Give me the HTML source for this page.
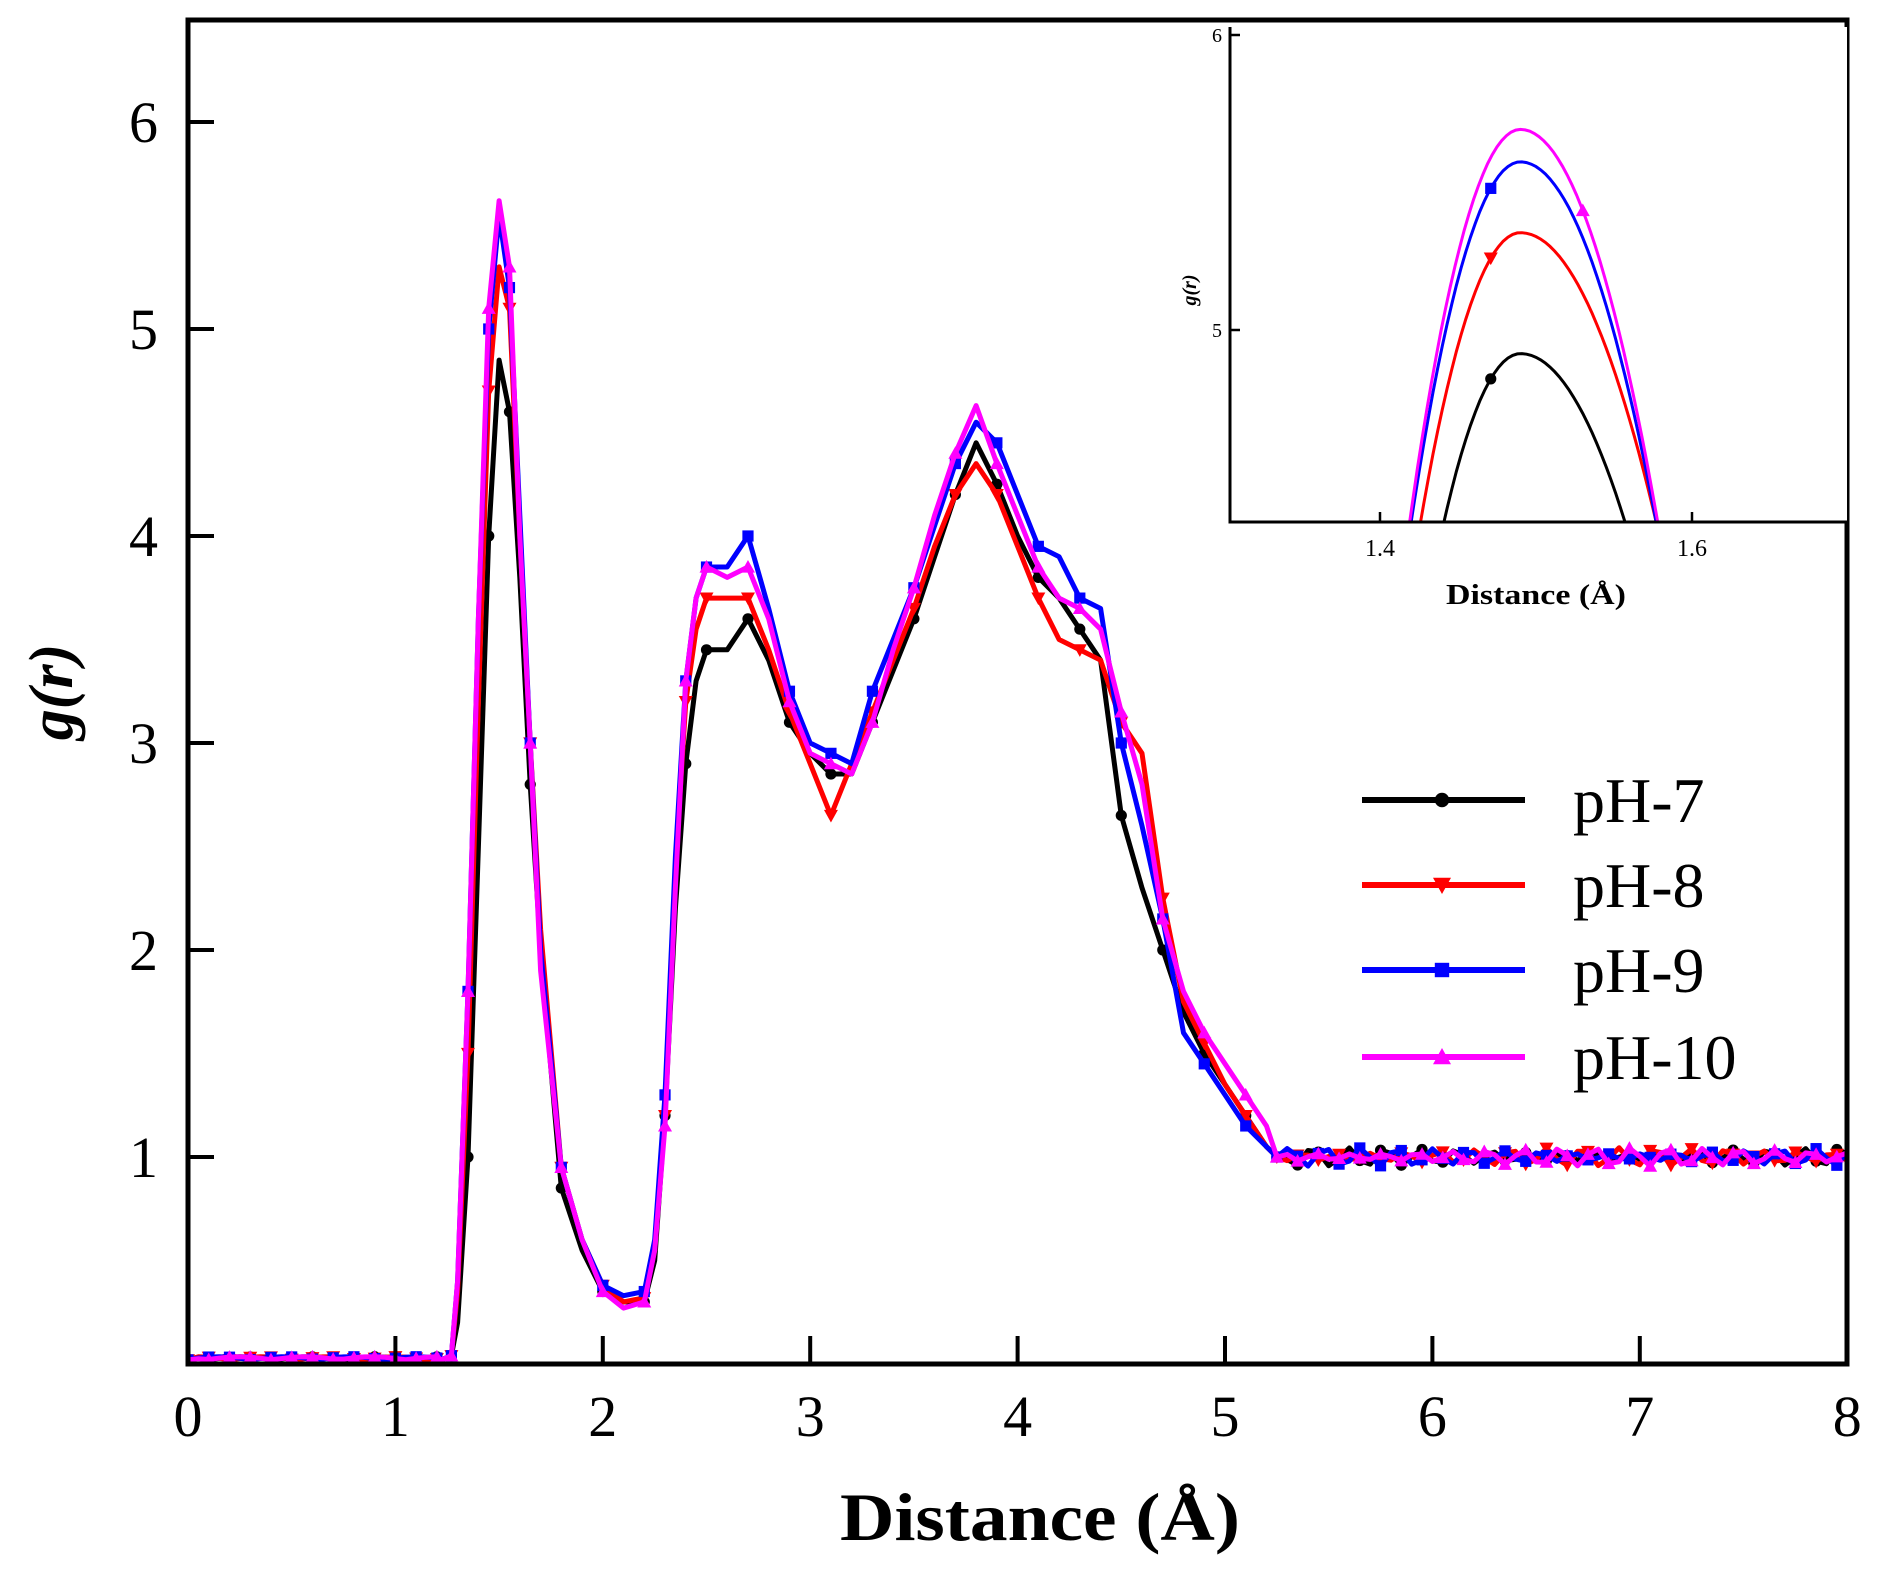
<!DOCTYPE html>
<html><head><meta charset="utf-8"><style>
html,body{margin:0;padding:0;background:#fff;}
svg{display:block}
text{font-family:"Liberation Serif",serif;fill:#000}
</style></head><body>
<svg id="s" width="1881" height="1574" viewBox="0 0 1881 1574" xmlns="http://www.w3.org/2000/svg">
<defs>
<clipPath id="mc"><rect x="188" y="20" width="1659" height="1344"/></clipPath>
<clipPath id="ic"><rect x="1230" y="27" width="617" height="495"/></clipPath>
</defs>
<g id="main" clip-path="url(#mc)"></g>
<rect x="188" y="20" width="1659" height="1344" fill="none" stroke="#000" stroke-width="5"/>
<g id="ticks" stroke="#000" stroke-width="4"></g>
<g id="labels" font-size="58"></g>
<text x="1040" y="1540" font-size="68" font-weight="bold" text-anchor="middle" textLength="400" lengthAdjust="spacingAndGlyphs">Distance (Å)</text>
<text transform="translate(72,692) rotate(-90)" font-size="62" font-weight="bold" font-style="italic" text-anchor="middle">g(r)</text>
<g id="legend"></g>
<rect x="1230" y="27" width="617" height="495" fill="#fff"/>
<g id="inset" clip-path="url(#ic)"></g>
<polyline points="1230,27 1230,522 1847,522" fill="none" stroke="#000" stroke-width="3"/>
<g stroke="#000" stroke-width="2.5">
<line x1="1230" y1="35" x2="1240" y2="35"/><line x1="1230" y1="330" x2="1240" y2="330"/>
<line x1="1380" y1="522" x2="1380" y2="512"/><line x1="1692" y1="522" x2="1692" y2="512"/>
</g>
<text x="1222" y="42" font-size="20" text-anchor="end">6</text>
<text x="1222" y="337" font-size="20" text-anchor="end">5</text>
<text x="1380" y="556" font-size="24" text-anchor="middle">1.4</text>
<text x="1692" y="556" font-size="24" text-anchor="middle">1.6</text>
<text x="1536" y="604" font-size="28" font-weight="bold" text-anchor="middle" textLength="180" lengthAdjust="spacingAndGlyphs">Distance (Å)</text>
<text transform="translate(1196,290) rotate(-90)" font-size="20" font-weight="bold" font-style="italic" text-anchor="middle">g(r)</text>
</svg>
<script>
var NS="http://www.w3.org/2000/svg";
function el(p,t,a){var e=document.createElementNS(NS,t);for(var k in a)e.setAttribute(k,a[k]);p.appendChild(e);return e;}
var X=function(x){return 188+x*207.4;}, Y=function(y){return 1364-y*207;};
var S={
k:{c:"#000",m:"circle",p:[[1.3,0.2],[1.35,1.0],[1.4,2.5],[1.45,4.0],[1.5,4.85],[1.55,4.6],[1.6,3.8],[1.65,2.8],[1.7,2.0],[1.8,0.85],[1.9,0.55],[2.0,0.35],[2.1,0.3],[2.2,0.3],[2.25,0.5],[2.3,1.2],[2.35,2.2],[2.4,2.9],[2.45,3.3],[2.5,3.45],[2.6,3.45],[2.7,3.6],[2.8,3.4],[2.9,3.1],[3.0,2.95],[3.1,2.85],[3.2,2.85],[3.3,3.1],[3.4,3.35],[3.5,3.6],[3.6,3.9],[3.7,4.2],[3.8,4.45],[3.9,4.25],[4.0,4.0],[4.1,3.8],[4.2,3.7],[4.3,3.55],[4.4,3.4],[4.5,2.65],[4.6,2.3],[4.7,2.0],[4.8,1.7],[4.9,1.5],[5.0,1.35],[5.1,1.2],[5.2,1.05],[5.25,1.0]]},
r:{c:"#ff0000",m:"tdown",p:[[1.3,0.35],[1.35,1.5],[1.4,3.2],[1.45,4.7],[1.5,5.3],[1.55,5.1],[1.6,4.0],[1.65,3.0],[1.7,2.1],[1.8,0.95],[1.9,0.6],[2.0,0.38],[2.1,0.3],[2.2,0.32],[2.25,0.55],[2.3,1.2],[2.35,2.4],[2.4,3.2],[2.45,3.55],[2.5,3.7],[2.6,3.7],[2.7,3.7],[2.8,3.45],[2.9,3.15],[3.0,2.9],[3.1,2.65],[3.2,2.9],[3.3,3.15],[3.4,3.4],[3.5,3.65],[3.6,3.95],[3.7,4.2],[3.8,4.35],[3.9,4.2],[4.0,3.95],[4.1,3.7],[4.2,3.5],[4.3,3.45],[4.4,3.4],[4.5,3.1],[4.6,2.95],[4.7,2.25],[4.8,1.75],[4.9,1.55],[5.0,1.35],[5.1,1.2],[5.2,1.05],[5.25,1.0]]},
b:{c:"#0000ff",m:"sq",p:[[1.3,0.4],[1.35,1.8],[1.4,3.6],[1.45,5.0],[1.5,5.55],[1.55,5.2],[1.6,4.1],[1.65,3.0],[1.7,2.0],[1.8,0.95],[1.9,0.6],[2.0,0.38],[2.1,0.33],[2.2,0.35],[2.25,0.6],[2.3,1.3],[2.35,2.45],[2.4,3.3],[2.45,3.7],[2.5,3.85],[2.6,3.85],[2.7,4.0],[2.8,3.65],[2.9,3.25],[3.0,3.0],[3.1,2.95],[3.2,2.9],[3.3,3.25],[3.4,3.5],[3.5,3.75],[3.6,4.05],[3.7,4.35],[3.8,4.55],[3.9,4.45],[4.0,4.2],[4.1,3.95],[4.2,3.9],[4.3,3.7],[4.4,3.65],[4.5,3.0],[4.6,2.6],[4.7,2.15],[4.8,1.6],[4.9,1.45],[5.0,1.3],[5.1,1.15],[5.2,1.05],[5.25,1.0]]},
m:{c:"#ff00ff",m:"tup",p:[[1.3,0.4],[1.35,1.8],[1.4,3.6],[1.45,5.1],[1.5,5.62],[1.55,5.3],[1.6,4.0],[1.65,3.0],[1.7,1.9],[1.8,0.95],[1.9,0.6],[2.0,0.35],[2.1,0.27],[2.2,0.3],[2.25,0.55],[2.3,1.15],[2.35,2.3],[2.4,3.3],[2.45,3.7],[2.5,3.85],[2.6,3.8],[2.7,3.85],[2.8,3.6],[2.9,3.2],[3.0,2.95],[3.1,2.9],[3.2,2.85],[3.3,3.1],[3.4,3.45],[3.5,3.75],[3.6,4.1],[3.7,4.4],[3.8,4.63],[3.9,4.35],[4.0,4.1],[4.1,3.85],[4.2,3.7],[4.3,3.65],[4.4,3.55],[4.5,3.15],[4.6,2.8],[4.7,2.15],[4.8,1.8],[4.9,1.6],[5.0,1.45],[5.1,1.3],[5.2,1.15],[5.25,1.0]]}
};
var seeds={k:1,r:2,b:3,m:4};
function marker(g,t,x,y,c,s){
 if(t=="circle")el(g,"circle",{cx:x,cy:y,r:s*0.8,fill:c});
 else if(t=="sq")el(g,"rect",{x:x-s*0.8,y:y-s*0.8,width:s*1.6,height:s*1.6,fill:c});
 else if(t=="tdown")el(g,"polygon",{points:(x-s)+","+(y-s*0.8)+" "+(x+s)+","+(y-s*0.8)+" "+x+","+(y+s),fill:c});
 else el(g,"polygon",{points:(x-s)+","+(y+s*0.8)+" "+(x+s)+","+(y+s*0.8)+" "+x+","+(y-s),fill:c});
}
var main=document.getElementById("main");
["k","r","b","m"].forEach(function(key){
 var s=S[key], sd=seeds[key];
 var tail=[];for(var x=5.3;x<=8.05;x+=0.05){tail.push([x,1.0+0.03*Math.sin(x*37+sd*2)+0.015*Math.sin(x*91+sd)]);}
 var head=[];for(var x=0.05;x<1.22;x+=0.05){head.push([x,0.02+0.015*Math.abs(Math.sin(x*53+sd))]);}
 var all=[[0,0.02]].concat(head,[[1.22,0.02],[1.27,0.04]],s.p,tail);
 var d=all.map(function(p,i){return (i?"L":"M")+X(p[0]).toFixed(1)+","+Y(p[1]).toFixed(1);}).join("");
 el(main,"path",{d:d,fill:"none",stroke:s.c,"stroke-width":5,"stroke-linejoin":"round"});
 all.forEach(function(p,i){ if(i%2==0) marker(main,s.m,X(p[0]),Y(p[1]),s.c,7); });
});
var tk=document.getElementById("ticks"), lb=document.getElementById("labels");
for(var i=0;i<=8;i++){ if(i>0&&i<8) el(tk,"line",{x1:X(i),y1:1364,x2:X(i),y2:1336}); var t=el(lb,"text",{x:X(i),y:1436,"text-anchor":"middle"}); t.textContent=i;}
for(var j=1;j<=6;j++){ el(tk,"line",{x1:188,y1:Y(j),x2:214,y2:Y(j)}); var t=el(lb,"text",{x:158,y:Y(j)+20,"text-anchor":"end"}); t.textContent=j;}
var lg=document.getElementById("legend");
[["k","pH-7",800],["r","pH-8",885],["b","pH-9",970],["m","pH-10",1057]].forEach(function(a){
 var s=S[a[0]]; el(lg,"line",{x1:1362,y1:a[2],x2:1525,y2:a[2],stroke:s.c,"stroke-width":6});
 marker(lg,s.m,1442,a[2],s.c,9);
 var t=el(lg,"text",{x:1573,y:a[2]+22,"font-size":64}); t.textContent=a[1];
});
var ins=document.getElementById("inset");
var IX=function(x){return 1224+(x-1.3)*1560;}, IY=function(y){return 330-(y-5)*295;};
[["k",4.92,1.441,1.557,1.471],["r",5.33,1.426,1.577,1.471],["b",5.57,1.42,1.577,1.471],["m",5.68,1.419,1.578,1.53]].forEach(function(a){
 var s=S[a[0]],pk=a[1],xp=1.49,base=4.35,kl=(pk-base)/Math.pow(xp-a[2],2),kr=(pk-base)/Math.pow(a[3]-xp,2);
 var d="";for(var x=a[2]-0.01;x<=a[3]+0.011;x+=0.003){var dx=x-xp;var v=pk-(dx<0?kl:kr)*dx*dx;
  d+=(d?"L":"M")+IX(x).toFixed(1)+","+IY(v).toFixed(1);}
 el(ins,"path",{d:d,fill:"none",stroke:s.c,"stroke-width":3});
 var dx=a[4]-xp, v=pk-(dx<0?kl:kr)*dx*dx; marker(ins,s.m,IX(a[4]),IY(v),s.c,7);
});
</script>
</body></html>
